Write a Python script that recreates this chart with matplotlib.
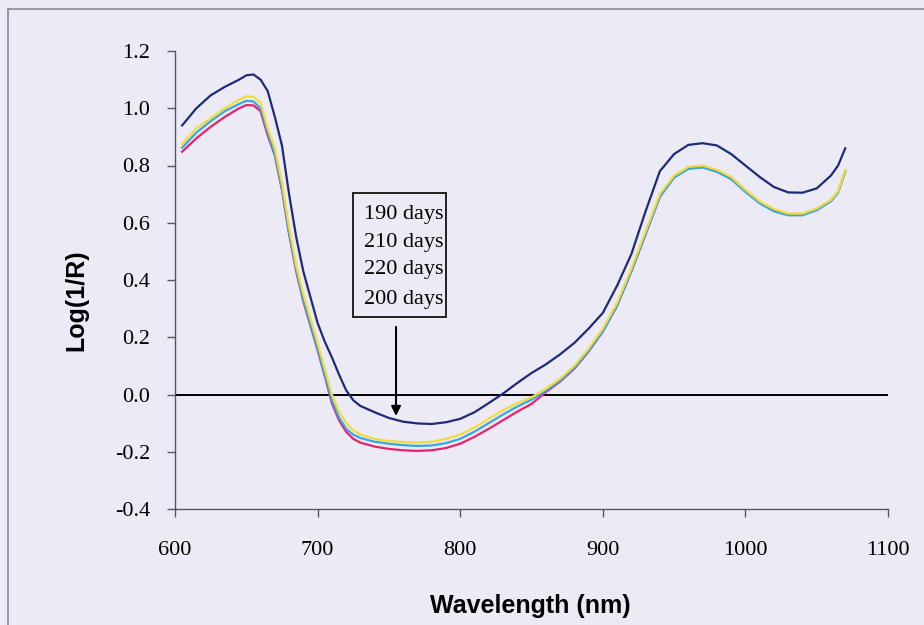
import matplotlib
matplotlib.use("Agg")
import matplotlib.pyplot as plt
from matplotlib.lines import Line2D
from matplotlib.patches import Rectangle

wavelength = [605, 615, 625, 635, 645, 650, 655, 660, 665, 670, 675, 680, 685, 690, 695,
              700, 705, 710, 715, 720, 725, 730, 740, 750, 760, 770, 780, 790, 800, 810,
              820, 830, 840, 850, 860, 870, 880, 890, 900, 910, 920, 930, 940, 950, 960,
              970, 980, 990, 1000, 1010, 1020, 1030, 1040, 1050, 1060, 1065, 1070]

days_190 = [0.94, 1.00, 1.045, 1.075, 1.10, 1.115, 1.118, 1.10, 1.06, 0.97, 0.87, 0.70, 0.55, 0.43, 0.34,
            0.25, 0.185, 0.13, 0.07, 0.015, -0.02, -0.04, -0.062, -0.082, -0.095, -0.101, -0.103, -0.097, -0.085, -0.062,
            -0.03, 0.003, 0.04, 0.075, 0.105, 0.14, 0.18, 0.23, 0.285, 0.38, 0.49, 0.64, 0.78, 0.84, 0.872,
            0.878, 0.87, 0.84, 0.80, 0.76, 0.725, 0.706, 0.705, 0.72, 0.765, 0.80, 0.86]

days_210 = [0.875, 0.93, 0.965, 1.00, 1.03, 1.042, 1.04, 1.02, 0.93, 0.86, 0.74, 0.585, 0.45, 0.35, 0.265,
            0.18, 0.09, 0.0, -0.06, -0.10, -0.125, -0.14, -0.155, -0.162, -0.166, -0.168, -0.165, -0.155, -0.14, -0.115,
            -0.085, -0.055, -0.03, -0.01, 0.02, 0.055, 0.10, 0.16, 0.23, 0.32, 0.44, 0.57, 0.70, 0.765, 0.795,
            0.80, 0.785, 0.76, 0.715, 0.675, 0.648, 0.632, 0.632, 0.65, 0.68, 0.71, 0.785]

days_220 = [0.862, 0.915, 0.955, 0.99, 1.015, 1.026, 1.024, 1.0, 0.915, 0.84, 0.72, 0.565, 0.435, 0.33, 0.245,
            0.16, 0.07, -0.02, -0.08, -0.12, -0.14, -0.152, -0.165, -0.172, -0.177, -0.18, -0.178, -0.17, -0.155, -0.13,
            -0.10, -0.07, -0.042, -0.018, 0.012, 0.048, 0.093, 0.152, 0.22, 0.31, 0.43, 0.56, 0.69, 0.758, 0.788,
            0.793, 0.778, 0.752, 0.708, 0.668, 0.64, 0.626, 0.626, 0.644, 0.675, 0.705, 0.78]

days_200 = [0.848, 0.895, 0.935, 0.97, 1.0, 1.011, 1.01, 0.99, 0.905, 0.835, 0.715, 0.56, 0.43, 0.325, 0.24,
            0.155, 0.065, -0.03, -0.09, -0.13, -0.155, -0.168, -0.182, -0.19, -0.195, -0.197, -0.195, -0.187, -0.172, -0.148,
            -0.12, -0.09, -0.06, -0.033, 0.008, 0.045, 0.09, 0.15, 0.22, 0.31, 0.43, 0.56, 0.692, 0.76, 0.792,
            0.797, 0.782, 0.757, 0.712, 0.672, 0.645, 0.63, 0.63, 0.648, 0.678, 0.708, 0.78]

labels = ["190 days", "210 days", "220 days", "200 days"]
x_ticks = [600, 700, 800, 900, 1000, 1100]
y_ticks = [-0.4, -0.2, 0.0, 0.2, 0.4, 0.6, 0.8, 1.0, 1.2]

bg = "#ecebf5"
fig = plt.figure(figsize=(9.24, 6.25), dpi=100, facecolor=bg)
ax = fig.add_axes([175 / 924, 1 - 509 / 625, 713 / 924, 458 / 625])
ax.set_facecolor(bg)

ax.plot(wavelength, days_200, color="#e8216e", lw=1.6, zorder=3)
ax.plot(wavelength, days_220, color="#3aa6e0", lw=1.6, zorder=4)
ax.plot(wavelength, days_210, color="#f2dc3a", lw=1.6, zorder=5)
ax.plot(wavelength, days_190, color="#1f2a78", lw=1.6, zorder=6)

ax.axhline(0.0, color="black", lw=1.4, zorder=2)

ax.set_xlim(600, 1100)
ax.set_ylim(-0.4, 1.2)
ax.set_xticks(x_ticks)
ax.set_yticks(y_ticks)
ax.set_xticklabels([str(v) for v in x_ticks])
ax.set_yticklabels([f"{v:.1f}" for v in y_ticks])
for s in ["top", "right"]:
    ax.spines[s].set_visible(False)
for s in ["left", "bottom"]:
    ax.spines[s].set_color("#555566")
    ax.spines[s].set_linewidth(1.0)
ax.tick_params(axis="both", direction="out", length=6, width=1.0, color="#555566",
               labelsize=16)
ax.tick_params(axis="x", pad=17)
ax.tick_params(axis="y", pad=12)
for lab in ax.get_xticklabels() + ax.get_yticklabels():
    lab.set_family("Liberation Serif")

# annotation box
box_fill = Rectangle((724.8, 0.272), 65.2, 0.433, facecolor=bg, edgecolor="none",
                     zorder=7)
ax.add_patch(box_fill)
box_edge = Rectangle((724.8, 0.272), 65.2, 0.433, facecolor="none", edgecolor="#222222",
                     lw=1.4, zorder=9)
ax.add_patch(box_edge)
for lab, yv in zip(labels, [0.612, 0.515, 0.421, 0.316]):
    t = ax.text(732.5, yv, lab, family="Liberation Serif", fontsize=16, va="baseline",
                ha="left", zorder=8)
    t.set_clip_path(box_fill)
ax.annotate("", xy=(755, -0.075), xytext=(755, 0.236),
            arrowprops=dict(arrowstyle="-|>", color="black", lw=1.5,
                            mutation_scale=14, shrinkA=0, shrinkB=0), zorder=8)

fig.text(530 / 924, 1 - 606 / 625, "Wavelength (nm)", ha="center", va="center",
         family="Liberation Sans", fontweight="bold", fontsize=18)
fig.text(76 / 924, 1 - 300 / 625, "Log(1/R)", ha="center", va="center", rotation=90,
         family="Liberation Sans", fontweight="bold", fontsize=18)

# outer chart frame
fig.add_artist(Line2D([8 / 924, 8 / 924], [0, 1 - 9 / 625], transform=fig.transFigure,
                      color="#8a8a99", lw=1.2))
fig.add_artist(Line2D([8 / 924, 1], [1 - 9 / 625, 1 - 9 / 625], transform=fig.transFigure,
                      color="#8a8a99", lw=1.2))

fig.savefig("out.png", dpi=100, facecolor=bg)
